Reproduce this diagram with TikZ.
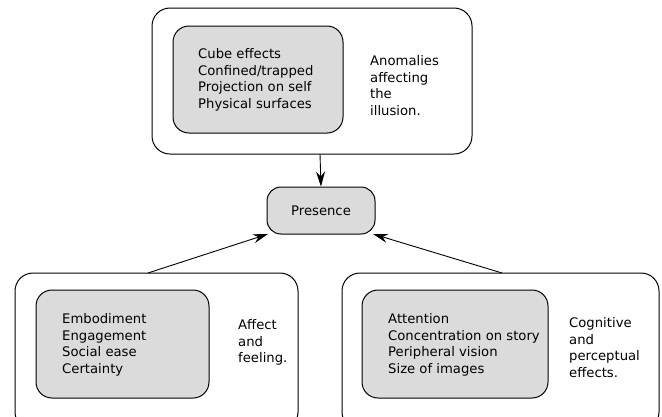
\documentclass[tikz,border=0pt]{standalone}
\usepackage{fontspec}
\setmainfont{DejaVu Sans}
\usetikzlibrary{arrows.meta}
\begin{document}
\begin{tikzpicture}[x=1pt,y=-1pt,
  outer/.style={draw=black,line width=1pt,rounded corners=18pt},
  inner/.style={draw=black,line width=1pt,fill=gray!28,rounded corners=16pt},
  txt/.style={font=\fontsize{13.2}{16.8}\selectfont,align=left,anchor=north west,inner sep=0pt},
  arr/.style={-{Stealth[length=15pt,width=9pt,inset=5pt]},line width=0.9pt}]
\useasboundingbox (0,0) rectangle (662,416);
\begin{scope}
\clip (0,0) rectangle (662,416);
% top group
\draw[outer] (152,8) rectangle (472,154);
\node[coordinate] (topS) at (320,154) {};
\draw[inner] (173,26) rectangle (343,133);
\node[txt] (topT) at (198,48) {Cube effects\\Confined/trapped\\Projection on self\\Physical surfaces};
\node[txt] (topR) at (370,55) {Anomalies\\affecting\\the\\illusion.};
% presence
\node[draw=black,line width=1pt,fill=gray!28,rounded corners=14pt,minimum width=108pt,minimum height=47pt,font=\fontsize{13.2}{15}\selectfont] (pres) at (321,210.5) {Presence};
% left group
\draw[outer] (15,273) rectangle (298,430);
\node[coordinate] (leftS) at (148,273) {};
\draw[inner] (36,290) rectangle (209,398);
\node[txt] (leftT) at (62,313) {Embodiment\\Engagement\\Social ease\\Certainty};
\node[txt] (leftR) at (238,319) {Affect\\and\\feeling.};
% right group
\draw[outer] (342,273) rectangle (659,430);
\node[coordinate] (rightS) at (502,273) {};
\draw[inner] (362,290) rectangle (548,398);
\node[txt] (rightT) at (388,313) {Attention\\Concentration on story\\Peripheral vision\\Size of images};
\node[txt] (rightR) at (569,317) {Cognitive\\and\\perceptual\\effects.};
% arrows
\draw[arr] (topS) -- (pres.north);
\draw[arr] (leftS) -- (268,234);
\draw[arr] (rightS) -- (373,234);
\end{scope}
\end{tikzpicture}
\end{document}
